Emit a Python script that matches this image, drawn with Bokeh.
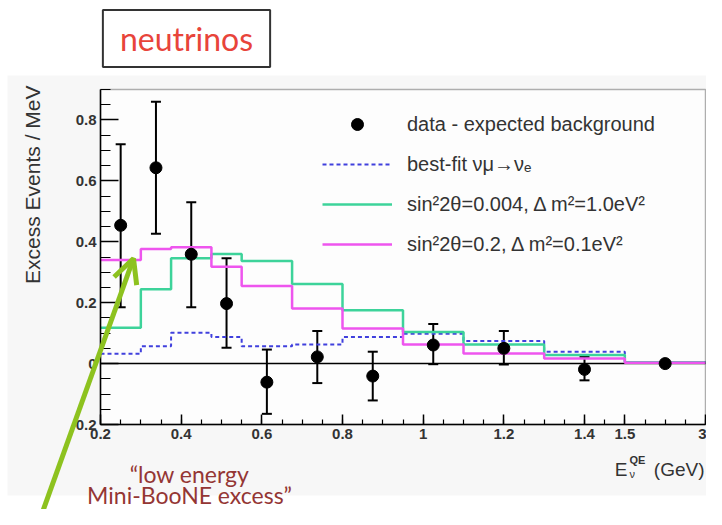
import math
from bokeh.plotting import figure
from bokeh.models import (ColumnDataSource, Whisker, TeeHead, Legend, LegendItem,
                          Label, Arrow, OpenHead, BoxAnnotation, FixedTicker, Range1d)
from bokeh.embed import file_html
from bokeh.resources import INLINE

# ---------------- data (GeV, events / MeV) ----------------
bin_edges = [0.2, 0.3, 0.375, 0.475, 0.55, 0.675, 0.8, 0.95, 1.1, 1.3, 1.5, 3.0]
bin_centers = [0.25, 0.3375, 0.425, 0.5125, 0.6125, 0.7375, 0.875, 1.025, 1.2, 1.4, 2.25]
excess = [0.454, 0.643, 0.359, 0.197, -0.061, 0.022, -0.041, 0.061, 0.050, -0.019, 0.0]
excess_upper = [0.72, 0.86, 0.53, 0.346, 0.046, 0.107, 0.039, 0.130, 0.107, 0.022, 0.004]
excess_lower = [0.185, 0.426, 0.185, 0.052, -0.165, -0.064, -0.121, -0.002, -0.003, -0.055, -0.004]
best_fit = [0.032, 0.057, 0.101, 0.087, 0.057, 0.063, 0.087, 0.098, 0.074, 0.039, 0.004]
osc_dm2_1 = [0.118, 0.244, 0.346, 0.360, 0.337, 0.261, 0.175, 0.104, 0.063, 0.028, 0.004]
osc_dm2_01 = [0.340, 0.376, 0.382, 0.318, 0.255, 0.181, 0.115, 0.063, 0.033, 0.017, 0.003]

x_tick_gev = [0.2, 0.4, 0.6, 0.8, 1.0, 1.2, 1.4, 1.5, 3.0]
x_tick_labels = ["0.2", "0.4", "0.6", "0.8", "1", "1.2", "1.4", "1.5", "3"]
y_tick_values = [-0.2, 0.0, 0.2, 0.4, 0.6, 0.8]
y_tick_labels = ["-0.2", "0", "0.2", "0.4", "0.6", "0.8"]
x_limits_gev = (0.2, 3.0)
y_limits = (-0.2, 0.9)

legend_labels = ["data - expected background",
                 "best-fit \u03bd\u03bc\u2192\u03bd\u2091",
                 "sin\u00b22\u03b8=0.004, \u0394 m\u00b2=1.0eV\u00b2",
                 "sin\u00b22\u03b8=0.2, \u0394 m\u00b2=0.1eV\u00b2"]


def axis_x(e):
    # the energy axis is linear up to 1.5 GeV, the 1.5-3 GeV bin is compressed
    return round(e if e <= 1.5 else 1.5 + (e - 1.5) * 0.2 / 1.5, 6)


edges_ax = [axis_x(e) for e in bin_edges]
centers_ax = [axis_x(e) for e in bin_centers]
x_ticks_ax = [axis_x(e) for e in x_tick_gev]
X0, X1 = axis_x(x_limits_gev[0]), axis_x(x_limits_gev[1])
Y0, Y1 = y_limits

# ---------------- layout (canvas pixels) ----------------
W, H = 706, 509
FL, FR, FT, FB = 100, 705, 89, 424          # the ROOT frame inside the canvas
xpp = (X1 - X0) / (FR - FL)
ypp = (Y1 - Y0) / (FB - FT)
x_range = Range1d(X0 - FL * xpp, X1 + (W - FR) * xpp)
y_range = Range1d(Y0 - (H - FB) * ypp, Y1 + FT * ypp)

p = figure(width=W, height=H, x_range=x_range, y_range=y_range,
           output_backend="svg", toolbar_location=None,
           min_border=0, min_border_left=0, min_border_right=0,
           min_border_top=0, min_border_bottom=0)
p.title.visible = False
p.border_fill_color = "white"
p.background_fill_color = "white"
p.outline_line_color = None
p.xgrid.visible = False
p.ygrid.visible = False

# backgrounds
p.add_layout(BoxAnnotation(left=7, right=W, top=75, bottom=495,
                           left_units="canvas", right_units="canvas",
                           top_units="canvas", bottom_units="canvas",
                           fill_color="#f7f7f7", fill_alpha=1.0, line_color=None,
                           level="underlay"))
p.add_layout(BoxAnnotation(left=X0, right=X1, bottom=Y0, top=Y1,
                           fill_color="#fdfdfd", fill_alpha=1.0, line_color=None,
                           level="underlay"))

# axes, placed on the edges of the ROOT frame
font = "Liberation Sans"
minor_x = [round(0.2 + 0.05 * i, 4) for i in range(31)]
minor_y = [round(-0.2 + 0.05 * i, 4) for i in range(23)]
p.xaxis.fixed_location = Y0
p.xaxis.bounds = (X0, X1)
p.yaxis.fixed_location = X0
p.yaxis.bounds = (Y0, Y1)
p.xaxis.ticker = FixedTicker(ticks=x_ticks_ax, minor_ticks=minor_x)
p.xaxis.major_label_overrides = {t: l for t, l in zip(x_ticks_ax, x_tick_labels)}
p.yaxis.ticker = FixedTicker(ticks=y_tick_values, minor_ticks=minor_y)
p.yaxis.major_label_overrides = {t: l for t, l in zip(y_tick_values, y_tick_labels)}
for ax in (p.xaxis, p.yaxis):
    ax.major_label_text_font = font
    ax.major_label_text_font_size = "15px"
    ax.major_label_text_font_style = "bold"
    ax.major_label_text_color = "#333333"
    ax.axis_line_color = "black"
    ax.axis_line_width = 1.5
    ax.major_tick_line_color = "black"
    ax.minor_tick_line_color = "black"
    ax.major_tick_line_width = 1.5
    ax.minor_tick_line_width = 1.2
    ax.major_tick_out = 0
    ax.minor_tick_out = 0
p.xaxis.major_tick_in = 10
p.xaxis.minor_tick_in = 5
p.yaxis.major_tick_in = 18
p.yaxis.minor_tick_in = 10
p.xaxis.major_label_standoff = 4
p.yaxis.major_label_standoff = 4

# zero line across the frame
p.segment(x0=[X0], x1=[X1], y0=[0], y1=[0], line_color="black", line_width=1.5)

# histograms
r_best = p.step(x=edges_ax, y=best_fit + [best_fit[-1]], mode="after",
                line_color="#4040dd", line_width=2, line_dash="4 3")
r_green = p.step(x=edges_ax, y=osc_dm2_1 + [osc_dm2_1[-1]], mode="after",
                 line_color="#3dd39a", line_width=2.5)
r_mag = p.step(x=edges_ax, y=osc_dm2_01 + [osc_dm2_01[-1]], mode="after",
               line_color="#ee55ee", line_width=2.5)

# data points
src = ColumnDataSource(dict(x=centers_ax, y=excess, upper=excess_upper, lower=excess_lower))
p.add_layout(Whisker(source=src, base="x", upper="upper", lower="lower", dimension="height",
                     line_color="black", line_width=2,
                     upper_head=TeeHead(size=10, line_color="black", line_width=2),
                     lower_head=TeeHead(size=10, line_color="black", line_width=2)))
r_pts = p.scatter(x="x", y="y", source=src, size=12, color="black")

# ROOT frame outline
p.add_layout(BoxAnnotation(left=X0, right=X1, bottom=Y0, top=Y1, fill_alpha=0,
                           line_color="black", line_width=1.5, level="guide"))

legend = Legend(items=[LegendItem(label=legend_labels[0], renderers=[r_pts]),
                       LegendItem(label=legend_labels[1], renderers=[r_best]),
                       LegendItem(label=legend_labels[2], renderers=[r_green]),
                       LegendItem(label=legend_labels[3], renderers=[r_mag])],
                location=(322, H - 259), margin=0, padding=0, spacing=10,
                glyph_width=70, glyph_height=30, label_height=30, label_standoff=15,
                label_text_font=font, label_text_font_size="20px", label_text_color="#333333",
                background_fill_alpha=0, border_line_color=None)
p.add_layout(legend)

# axis titles
p.add_layout(Label(x=32, y=85, x_units="canvas", y_units="canvas", angle=math.pi / 2,
                   text="Excess Events / MeV", text_align="right", text_baseline="middle",
                   text_font=font, text_font_size="21px", text_color="#333333"))
p.add_layout(Label(x=FR - 1, y=469, x_units="canvas", y_units="canvas", text="(GeV)",
                   text_align="right", text_baseline="alphabetic", text_font=font,
                   text_font_size="19px", text_color="#333333"))
p.add_layout(Label(x=FR - 78, y=469, x_units="canvas", y_units="canvas", text="E",
                   text_align="right", text_baseline="alphabetic", text_font=font,
                   text_font_size="19px", text_color="#333333"))
p.add_layout(Label(x=FR - 76, y=459, x_units="canvas", y_units="canvas", text="QE",
                   text_align="left", text_baseline="alphabetic", text_font=font,
                   text_font_size="11px", text_font_style="bold", text_color="#333333"))
p.add_layout(Label(x=FR - 76, y=473, x_units="canvas", y_units="canvas", text="\u03bd",
                   text_align="left", text_baseline="alphabetic", text_font=font,
                   text_font_size="11px", text_color="#333333"))

# slide annotations
p.add_layout(Label(x=186, y=38, x_units="canvas", y_units="canvas", text="neutrinos",
                   text_align="center", text_baseline="middle", text_font="Lato",
                   text_font_size="32px", text_color="#e8443a",
                   border_line_color="#333333", border_line_width=2,
                   background_fill_color="white",
                   padding=dict(left=17, right=17, top=9, bottom=9)))
p.add_layout(Label(x=189, y=473, x_units="canvas", y_units="canvas", text="\u201clow energy",
                   text_align="center", text_baseline="alphabetic", text_font="Lato",
                   text_font_size="23px", text_color="#943634"))
p.add_layout(Label(x=189, y=494, x_units="canvas", y_units="canvas", text="Mini-BooNE excess\u201d",
                   text_align="center", text_baseline="alphabetic", text_font="Lato",
                   text_font_size="23px", text_color="#943634"))
p.add_layout(Arrow(x_start=30, y_start=545, x_end=133, y_end=258,
                   start_units="canvas", end_units="canvas",
                   line_color="#8dc21f", line_width=5, level="overlay",
                   end=OpenHead(size=24, line_color="#8dc21f", line_width=5)))

open("out.html", "w").write(file_html(p, INLINE))
